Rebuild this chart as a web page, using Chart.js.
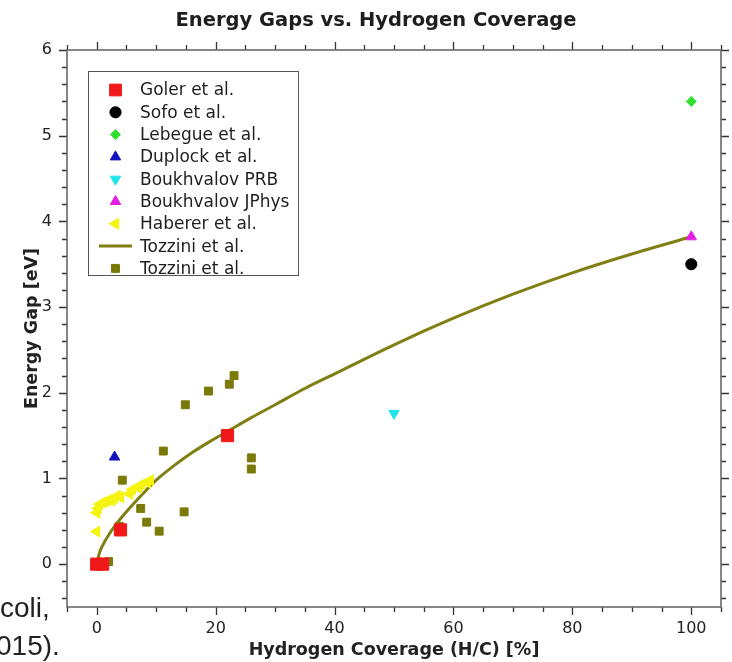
<!DOCTYPE html>
<html>
<head>
<meta charset="utf-8">
<script src="https://cdn.jsdelivr.net/npm/chart.js@4"></script>
<style>
  html, body { margin: 0; padding: 0; background: #fff; }
  #wrap { width: 732px; height: 662px; }
</style>
</head>
<body>
<div id="wrap"><canvas id="gaps" width="732" height="662"></canvas></div>
<script>
// energy gap (eV) against hydrogen coverage H/C (%)
const golerX = [0, 1, 4, 22]
const golerY = [0, 0, 0.4, 1.5]

const sofoX = [100]
const sofoY = [3.5]

const lebegueX = [100]
const lebegueY = [5.4]

const duplockX = [3]
const duplockY = [1.25]

const prbX = [50]
const prbY = [1.76]

const jphysX = [100]
const jphysY = [3.82]

const habererX = [0, 0, 0.2, 0.5, 1, 1.5, 2, 2.5, 3, 3.5, 4, 5.5, 6, 7, 7.5, 8.5, 9]
const habererY = [0.38, 0.6, 0.65, 0.7, 0.72, 0.73, 0.75, 0.74, 0.77, 0.8, 0.78, 0.82, 0.87, 0.89, 0.93, 0.95, 0.98]

const tozziniFitX = [0, 0.5, 1, 2, 3, 4, 6, 8, 10, 13, 16, 19, 22, 26, 30, 35, 40, 50, 60, 70, 80, 90, 100]
const tozziniFitY = [0, 0.14, 0.22, 0.34, 0.44, 0.53, 0.69, 0.84, 0.98, 1.15, 1.3, 1.43, 1.55, 1.71, 1.86, 2.05, 2.22, 2.56, 2.87, 3.15, 3.4, 3.62, 3.82]

const tozziniX = [2, 3.8, 4.3, 7.4, 8.4, 10.5, 11.2, 14.7, 14.9, 18.8, 22.3, 23.1, 26, 26]
const tozziniY = [0.03, 0.44, 0.98, 0.65, 0.49, 0.385, 1.32, 0.61, 1.86, 2.02, 2.1, 2.2, 1.24, 1.11]

const xTicks = [0, 20, 40, 60, 80, 100]
const yTicks = [0, 1, 2, 3, 4, 5, 6]

const FONT = '"DejaVu Sans", Verdana, sans-serif'

function pts( xs, ys ) {
  return xs.map( ( x, i ) => ( { x: x, y: ys[i] } ) )
}

function markers( label, xs, ys, color, style, radius, rotation ) {
  return {
    label: label,
    data: pts( xs, ys ),
    pointStyle: style,
    pointRadius: radius,
    pointHoverRadius: radius,
    pointRotation: rotation || 0,
    pointBackgroundColor: color,
    pointBorderColor: color,
    pointBorderWidth: 1,
    backgroundColor: color,
    borderColor: color,
    showLine: false,
  }
}

const datasets = [
  markers( 'Goler et al.', golerX, golerY, '#f01818', 'rect', 8.6 ),
  markers( 'Sofo et al.', sofoX, sofoY, '#000000', 'circle', 5.6 ),
  markers( 'Lebegue et al.', lebegueX, lebegueY, '#2fe02f', 'rectRot', 5 ),
  markers( 'Duplock et al.', duplockX, duplockY, '#1212bf', 'triangle', 6 ),
  markers( 'Boukhvalov PRB', prbX, prbY, '#20e4ec', 'triangle', 6, 180 ),
  markers( 'Boukhvalov JPhys', jphysX, jphysY, '#e41ee4', 'triangle', 6 ),
  markers( 'Haberer et al.', habererX, habererY, '#f4f410', 'triangle', 6.3, -90 ),
  {
    label: 'Tozzini et al.',
    data: pts( tozziniFitX, tozziniFitY ),
    showLine: true,
    borderColor: '#7f7f14',
    backgroundColor: '#7f7f14',
    borderWidth: 3,
    pointRadius: 0,
    pointHoverRadius: 0,
    cubicInterpolationMode: 'monotone',
    isLine: true,
  },
  markers( 'Tozzini et al.', tozziniX, tozziniY, '#7a7a0a', 'rect', 5.6 ),
]

// frame with outward ticks on all four sides, minor every 5 % / 0.2 eV
const framePlugin = {
  id: 'frame',
  beforeDatasetsDraw( chart ) {
    const { ctx, chartArea: a, scales } = chart
    const xs = scales.x
    const ys = scales.y
    ctx.save()
    ctx.strokeStyle = '#333'
    ctx.lineWidth = 1.3
    ctx.beginPath()
    for ( let i = -1; i <= 21; i++ ) {
      const v = i * 5
      const len = v % 20 === 0 ? 8 : 5
      const px = Math.round( xs.getPixelForValue( v ) ) + 0.5
      ctx.moveTo( px, a.bottom ); ctx.lineTo( px, a.bottom + len )
      ctx.moveTo( px, a.top ); ctx.lineTo( px, a.top - len )
    }
    for ( let k = -2; k <= 30; k++ ) {
      const len = k % 5 === 0 ? 8 : 5
      const py = Math.round( ys.getPixelForValue( k / 5 ) ) + 0.5
      ctx.moveTo( a.left, py ); ctx.lineTo( a.left - len, py )
      ctx.moveTo( a.right, py ); ctx.lineTo( a.right + len, py )
    }
    ctx.stroke()
    ctx.strokeStyle = '#6a6a6a'
    ctx.lineWidth = 1.6
    ctx.strokeRect( a.left, a.top, a.right - a.left, a.bottom - a.top )
    ctx.restore()
  },
}

// boxed legend in the upper left of the plot
const legendPlugin = {
  id: 'boxLegend',
  afterDatasetsDraw( chart ) {
    const ctx = chart.ctx
    ctx.save()
    ctx.fillStyle = '#fff'
    ctx.fillRect( 88, 71, 210, 204 )
    ctx.strokeStyle = '#555'
    ctx.lineWidth = 1
    ctx.strokeRect( 88.5, 71.5, 210, 204 )
    ctx.font = '17px ' + FONT
    ctx.textBaseline = 'middle'
    chart.data.datasets.forEach( ( ds, i ) => {
      const y = 90 + i * 22.3
      if ( ds.isLine ) {
        ctx.strokeStyle = ds.borderColor
        ctx.lineWidth = 3
        ctx.beginPath()
        ctx.moveTo( 99, y ); ctx.lineTo( 132, y )
        ctx.stroke()
      } else {
        ctx.fillStyle = ds.pointBackgroundColor
        ctx.strokeStyle = ds.pointBorderColor
        ctx.lineWidth = 1
        Chart.helpers.drawPoint( ctx, {
          pointStyle: ds.pointStyle,
          radius: Math.min( ds.pointRadius, 8.3 ),
          rotation: ds.pointRotation,
          borderWidth: 1,
        }, 115.5, y )
      }
      ctx.fillStyle = '#1e1e1e'
      ctx.fillText( ds.label, 140, y + 1 )
    } )
    ctx.restore()
  },
}

const textPlugin = {
  id: 'texts',
  afterDraw( chart ) {
    const ctx = chart.ctx
    ctx.save()
    ctx.fillStyle = '#1e1e1e'
    ctx.textAlign = 'center'
    ctx.textBaseline = 'middle'
    ctx.font = 'bold 19.5px ' + FONT
    ctx.fillText( 'Energy Gaps vs. Hydrogen Coverage', 376, 21 )
    ctx.textAlign = 'left'
    ctx.textBaseline = 'alphabetic'
    ctx.fillStyle = '#222'
    ctx.font = '28px "Liberation Sans", Arial, sans-serif'
    ctx.fillText( 'coli,', 0, 617 )
    ctx.fillText( '015).', -4, 655 )
    ctx.restore()
  },
}

new Chart( document.getElementById( 'gaps' ).getContext( '2d' ), {
  type: 'scatter',
  data: { datasets: datasets },
  options: {
    responsive: false,
    animation: false,
    devicePixelRatio: 1,
    layout: { padding: { top: 50, right: 11, left: 0, bottom: 0 } },
    plugins: {
      legend: { display: false },
      tooltip: { enabled: false },
    },
    scales: {
      x: {
        type: 'linear',
        min: -5,
        max: 105,
        afterFit: ( s ) => { s.height = 55 },
        afterBuildTicks: ( s ) => { s.ticks = xTicks.map( ( v ) => ( { value: v } ) ) },
        grid: { display: false },
        border: { display: false },
        ticks: {
          autoSkip: false,
          maxRotation: 0,
          padding: 4,
          color: '#222',
          font: { family: FONT, size: 16 },
        },
        title: {
          display: true,
          text: 'Hydrogen Coverage (H/C) [%]',
          color: '#222',
          font: { family: FONT, size: 17.5, weight: 'bold' },
          padding: { top: 0, bottom: 1.5 },
        },
      },
      y: {
        type: 'linear',
        min: -0.5,
        max: 6,
        afterFit: ( s ) => { s.width = 67 },
        afterBuildTicks: ( s ) => { s.ticks = yTicks.map( ( v ) => ( { value: v } ) ) },
        grid: { display: false },
        border: { display: false },
        ticks: {
          autoSkip: false,
          padding: 7,
          color: '#222',
          font: { family: FONT, size: 16 },
        },
        title: {
          display: true,
          text: 'Energy Gap [eV]',
          color: '#222',
          font: { family: FONT, size: 17.5, weight: 'bold' },
          padding: { top: 22, bottom: 0 },
        },
      },
    },
  },
  plugins: [ framePlugin, legendPlugin, textPlugin ],
} )
</script>
</body>
</html>
